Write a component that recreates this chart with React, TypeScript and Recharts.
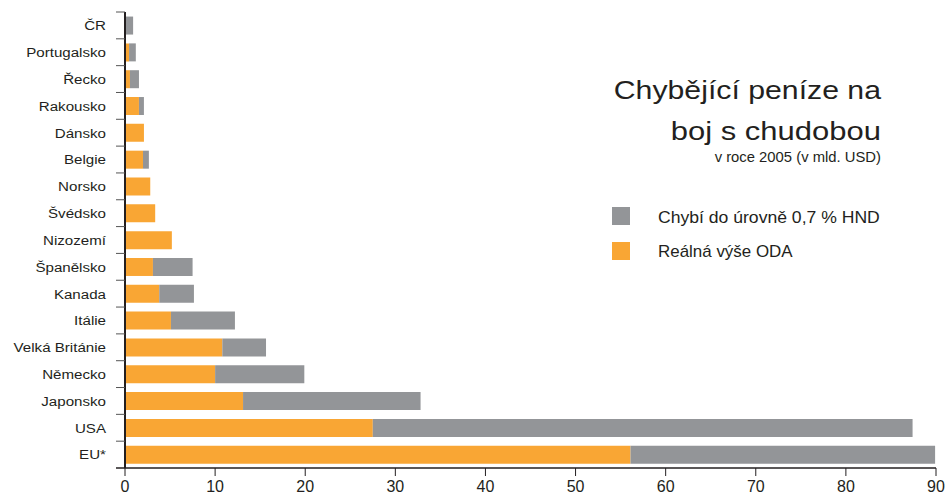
import { Bar, BarChart, XAxis, YAxis } from "recharts";

const countries = [
  "ČR",
  "Portugalsko",
  "Řecko",
  "Rakousko",
  "Dánsko",
  "Belgie",
  "Norsko",
  "Švédsko",
  "Nizozemí",
  "Španělsko",
  "Kanada",
  "Itálie",
  "Velká Británie",
  "Německo",
  "Japonsko",
  "USA",
  "EU*",
];
// real ODA paid in 2005 (bn USD)
const odaValues = [0, 0.45, 0.55, 1.55, 2.1, 2.0, 2.8, 3.35, 5.2, 3.1, 3.8, 5.1, 10.8, 10.0, 13.1, 27.5, 56.1];
// missing amount to reach 0.7 % GNI
const missingValues = [0.9, 0.75, 1.0, 0.55, 0, 0.65, 0, 0, 0, 4.4, 3.85, 7.1, 4.85, 9.9, 19.7, 59.9, 33.8];
const xTicks = [0, 10, 20, 30, 40, 50, 60, 70, 80, 90];

const seriesNames = ["Chybí do úrovně 0,7 % HND", "Reálná výše ODA"];
const titleLines = ["Chybějící peníze na", "boj s chudobou"];
const subtitle = "v roce 2005 (v mld. USD)";

const ORANGE = "#f9a634";
const GRAY = "#939598";
const INK = "#231f20";
const FONT = '"Liberation Sans", Arial, sans-serif';

const W = 949;
const H = 497;
const TOP = 12;
const X_AXIS_H = 29;
const AXIS_X = 125;
const PLOT_H = H - TOP - X_AXIS_H;

const data = countries.map((name, i) => ({
  name,
  oda: odaValues[i],
  missing: missingValues[i],
}));

function CountryTick(props: any) {
  const { y, payload } = props;
  const band = PLOT_H / countries.length;
  const isLast = payload.value === countries[countries.length - 1];
  return (
    <g>
      <line x1={AXIS_X - 9} x2={AXIS_X} y1={y - band / 2} y2={y - band / 2} stroke="#555" strokeWidth={1} />
      {isLast && (
        <line x1={AXIS_X - 9} x2={AXIS_X} y1={y + band / 2} y2={y + band / 2} stroke={INK} strokeWidth={1.5} />
      )}
      <text
        transform={`translate(106,${y}) scale(1.12,1)`}
        textAnchor="end"
        dy="0.36em"
        fontSize={13.5}
        fontFamily={FONT}
        fill={INK}
      >
        {payload.value}
      </text>
    </g>
  );
}

export default function App() {
  return (
    <div style={{ position: "absolute", left: 0, top: 0, width: W, height: H, background: "#fff" }}>
      <BarChart
        width={W}
        height={H}
        data={data}
        layout="vertical"
        margin={{ top: TOP, right: 13, bottom: 0, left: 0 }}
        barCategoryGap="17%"
      >
        <XAxis
          type="number"
          domain={[0, 90]}
          ticks={xTicks}
          height={X_AXIS_H}
          tickSize={8}
          tickMargin={5}
          axisLine={{ stroke: INK, strokeWidth: 1.5 }}
          tickLine={{ stroke: INK }}
          tick={{ fontSize: 16, fill: INK, fontFamily: FONT }}
        />
        <YAxis
          type="category"
          dataKey="name"
          width={AXIS_X}
          tickSize={0}
          tickMargin={19}
          tickLine={false}
          axisLine={{ stroke: INK, strokeWidth: 2 }}
          tick={<CountryTick />}
          interval={0}
        />
        <Bar dataKey="oda" stackId="a" fill={ORANGE} isAnimationActive={false} />
        <Bar dataKey="missing" stackId="a" fill={GRAY} isAnimationActive={false} />
      </BarChart>

      <svg
        width={W}
        height={H}
        style={{ position: "absolute", left: 0, top: 0, pointerEvents: "none" }}
      >
        <g fontFamily={FONT} fill={INK}>
          <text transform="translate(881,98.5) scale(1.21,1)" textAnchor="end" fontSize={25}>
            {titleLines[0]}
          </text>
          <text transform="translate(881,140) scale(1.24,1)" textAnchor="end" fontSize={25}>
            {titleLines[1]}
          </text>
          <text transform="translate(881,161.5) scale(1.06,1)" textAnchor="end" fontSize={14}>
            {subtitle}
          </text>
          {seriesNames.map((name, i) => (
            <g key={name}>
              <rect x={612} y={207 + i * 35} width={18} height={18} fill={i === 0 ? GRAY : ORANGE} />
              <text
                transform={`translate(658,${223 + i * 34}) scale(${i === 0 ? 1.1 : 1.06},1)`}
                fontSize={16}
              >
                {name}
              </text>
            </g>
          ))}
        </g>
      </svg>
    </div>
  );
}
